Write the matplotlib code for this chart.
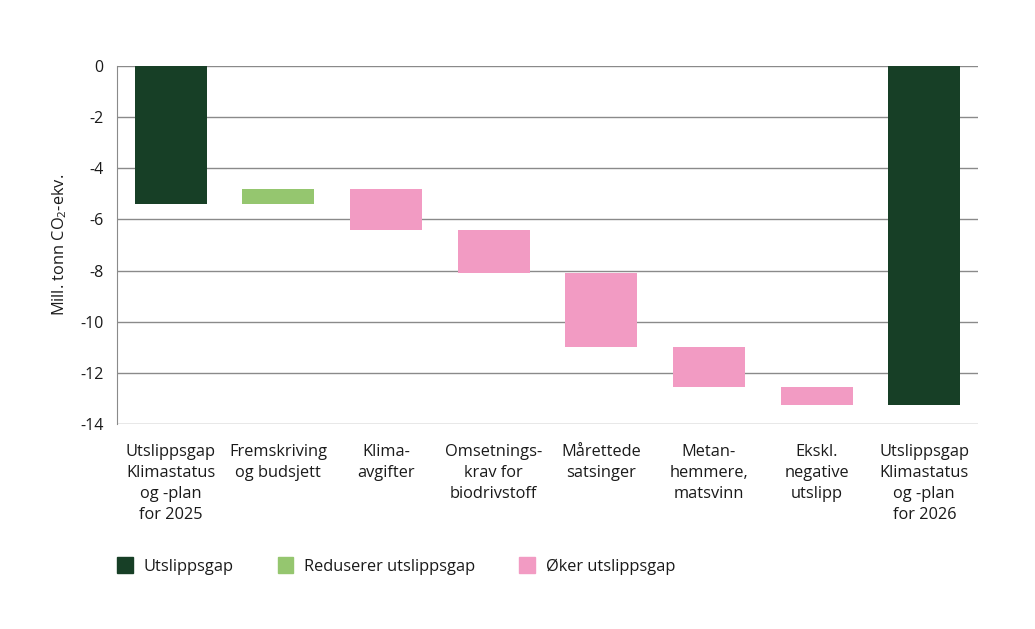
import numpy as np
import matplotlib.pyplot as plt
from matplotlib.patches import Patch

plt.rcParams['font.family'] = ['Open Sans', 'DejaVu Sans']
plt.rcParams['mathtext.fontset'] = 'custom'
plt.rcParams['mathtext.rm'] = 'Open Sans'
plt.rcParams['mathtext.it'] = 'Open Sans'
plt.rcParams['axes.unicode_minus'] = False

# kategorier og verdier (mill. tonn CO2-ekv.)
kategorier = ["Utslippsgap\nKlimastatus\nog -plan\nfor 2025",
              "Fremskriving\nog budsjett",
              "Klima-\navgifter",
              "Omsetnings-\nkrav for\nbiodrivstoff",
              "Mårettede\nsatsinger",
              "Metan-\nhemmere,\nmatsvinn",
              "Ekskl.\nnegative\nutslipp",
              "Utslippsgap\nKlimastatus\nog -plan\nfor 2026"]
gap_2025 = -5.4
endringer = [0.6, -1.6, -1.7, -2.9, -1.55, -0.7]
gap_2026 = -13.25

mork = "#173f26"
gronn = "#95c66f"
rosa = "#f29bc3"

# waterfall: bunn og hoyde for hver stolpe
bunn = [0.0]
hoyde = [gap_2025]
farge = [mork]
niva = gap_2025
for e in endringer:
    bunn.append(niva)
    hoyde.append(e)
    farge.append(gronn if e > 0 else rosa)
    niva = niva + e
bunn.append(0.0)
hoyde.append(gap_2026)
farge.append(mork)

fig = plt.figure(figsize=(10.35, 6.29), dpi=100)
ax = fig.add_axes([0.113, 0.326, 0.832, 0.569])

x = np.arange(len(kategorier))
ax.bar(x, hoyde, bottom=bunn, color=farge, width=0.67, zorder=3)

ax.set_xlim(-0.5, len(kategorier) - 0.5)
ax.set_ylim(-14, 0)
ax.set_yticks(np.arange(-14, 1, 2))
ax.yaxis.grid(True, color="#8a8a8a", linewidth=1.0, zorder=0)
ax.set_xticks(x)
ax.set_xticklabels(kategorier, fontsize=11.8, linespacing=1.42, color="#1a1a1a")
ax.tick_params(axis="y", length=0, pad=9.5, labelsize=11.5, labelcolor="#1a1a1a")
ax.tick_params(axis="x", length=0, pad=14.5)
for s in ["top", "right", "bottom"]:
    ax.spines[s].set_visible(False)
ax.spines["left"].set_color("#8a8a8a")
ax.spines["left"].set_zorder(4)

ax.set_ylabel("Mill. tonn CO$_2$-ekv.", fontsize=11.8, color="#1a1a1a", labelpad=8.5)

handles = [Patch(color=mork, label="Utslippsgap"),
           Patch(color=gronn, label="Reduserer utslippsgap"),
           Patch(color=rosa, label="Øker utslippsgap")]
fig.legend(handles=handles, loc="upper left", bbox_to_anchor=(0.099, 0.1375),
           ncol=3, frameon=False, fontsize=11.8, handlelength=0.95, handleheight=1.1,
           handletextpad=0.65, columnspacing=2.7, labelcolor="#1a1a1a")

fig.savefig("out.png", dpi=100)
